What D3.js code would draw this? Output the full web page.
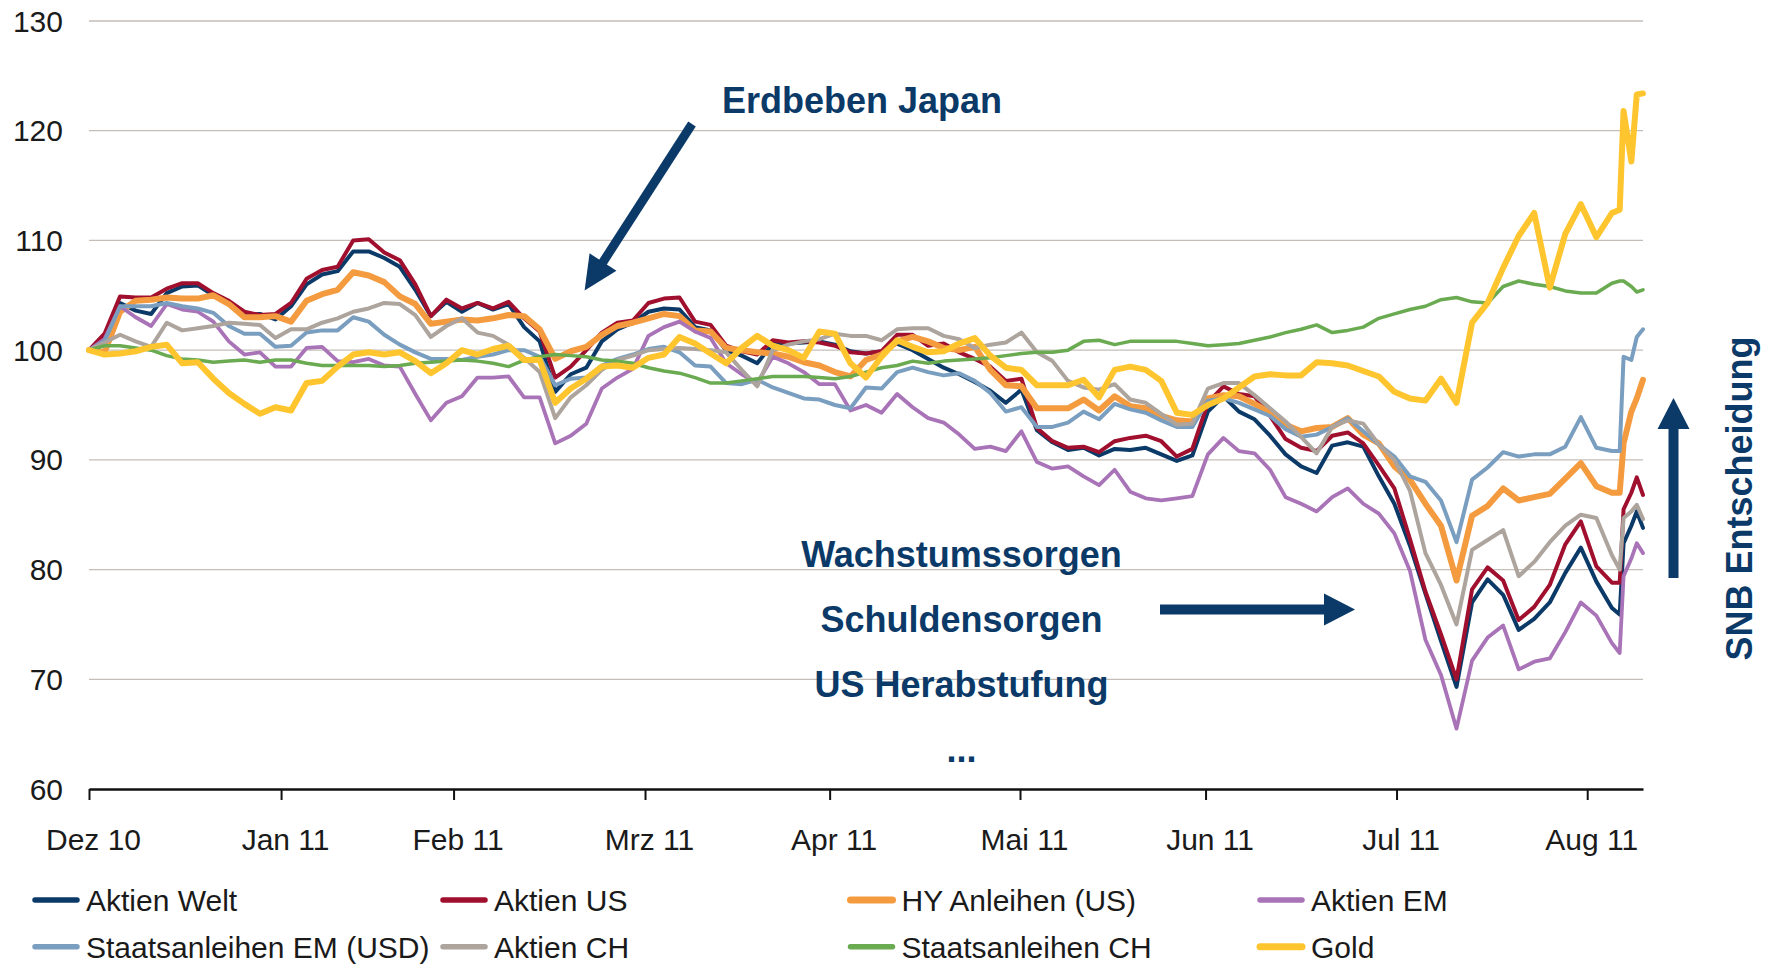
<!DOCTYPE html>
<html lang="de">
<head>
    <meta charset="UTF-8">
    <title>Anlageklassen Dez 10 - Aug 11</title>
    <script src="https://cdn.jsdelivr.net/npm/d3@7"></script>
    <style>
        body { margin: 0; background: #fff; }
        svg { display: block; }
        .tick_text, .legend_text {
            font-family: "Liberation Sans", Arial, sans-serif;
            font-size: 30px;
            fill: #1a1a1a;
        }
        .note {
            font-family: "Liberation Sans", Arial, sans-serif;
            font-size: 36px;
            font-weight: bold;
            fill: #0b3a68;
        }
    </style>
</head>
<body>
<svg width="1773" height="964"></svg>

<script>
    // sample positions (trading-day index, 0 = start of Dec 10)
    const day = d3.range(0, 99).concat([98.5, 98.75, 99.25, 99.6, 100]);

    const aktienWelt = [
        100, 101, 104.3, 103.6, 103.3, 105.2, 105.8, 105.9, 105, 104.3,
        103.2, 103.3, 102.8, 104, 106, 106.9, 107.2, 109, 109, 108.4,
        107.6, 105.5, 103.1, 104.4, 103.5, 104.3, 103.7, 104.2, 102.1, 100.8,
        96.2, 97.8, 98.4, 100.8, 101.9, 102.5, 103.5, 103.8, 103.7, 102.1,
        101.8, 100, 99.5, 98.8, 100.6, 100.6, 100.7, 100.8, 100.5, 99.9,
        99.7, 99.9, 100.6, 100, 99.2, 98.4, 97.8, 97.1, 96.3, 95.2,
        96.4, 92.7, 91.6, 90.9, 91.1, 90.4, 91, 90.9, 91.1, 90.5,
        89.9, 90.4, 94.4, 95.8, 94.4, 93.7, 92.2, 90.5, 89.4, 88.8,
        91.3, 91.6, 91.2, 88.5, 86, 82.2, 77.8, 73.5, 69.3, 77,
        79.1, 77.7, 74.5, 75.5, 77, 79.7, 82, 78.9, 76.5,
        75.9, 82.4, 84, 85.3, 83.8];

    const aktienUS = [
        100, 101.5, 104.9, 104.8, 104.8, 105.6, 106.1, 106.1, 105.2, 104.5,
        103.5, 103.2, 103.3, 104.3, 106.5, 107.3, 107.6, 110, 110.1, 108.9,
        108.2, 106, 103.1, 104.6, 103.8, 104.3, 103.8, 104.4, 102.9, 101.7,
        97.5, 98.5, 100, 101.6, 102.5, 102.7, 104.3, 104.7, 104.8, 102.6,
        102.3, 100.4, 99.9, 99.6, 100.9, 100.7, 100.8, 100.7, 100.4, 99.8,
        99.7, 99.9, 101.4, 101.4, 100.4, 100.6, 99.8, 99.2, 98.5, 97.2,
        97.4, 92.9, 91.7, 91.1, 91.2, 90.7, 91.7, 92, 92.2, 91.7,
        90.3, 91, 95.2, 96.7, 96, 95.8, 94, 91.9, 91.1, 90.8,
        92.2, 92.5, 91.5, 89.5, 87.4, 82.8, 78, 74.1, 70, 78.2,
        80.2, 79, 75.4, 76.6, 78.6, 82.3, 84.4, 80.3, 78.8,
        78.8, 85.5, 87, 88.4, 86.8];

    const hyAnleihen = [
        100, 99.8, 103.5, 104.5, 104.6, 104.8, 104.7, 104.7, 105, 104.2,
        103, 103, 103.1, 102.6, 104.5, 105.1, 105.5, 107.1, 106.8, 106.2,
        104.9, 104.2, 102.4, 102.6, 102.8, 102.7, 102.9, 103.2, 103.1, 101.9,
        99.2, 99.9, 100.3, 101.4, 102.2, 102.5, 102.9, 103.3, 103.1, 101.8,
        101.7, 100.2, 100, 99.8, 99.7, 99.4, 98.9, 98.6, 98, 97.6,
        99.1, 99.6, 100.8, 101.2, 100.8, 100.2, 100, 100.3, 98.2, 96.8,
        96.7, 94.7, 94.7, 94.7, 95.5, 94.5, 95.8, 94.9, 94.7, 94,
        93.6, 93.5, 95.6, 95.9, 95.8, 95.1, 94.3, 93.2, 92.6, 92.9,
        93, 93.8, 92.3, 91.5, 89.4, 88.2, 86, 84, 79, 84.9,
        85.8, 87.4, 86.3, 86.6, 86.9, 88.3, 89.7, 87.6, 87,
        87, 91.5, 94.4, 95.6, 97.3];

    const aktienEM = [
        100, 101, 104, 103, 102.2, 104.2, 103.7, 103.5, 102.6, 100.8,
        99.6, 99.8, 98.5, 98.5, 100.2, 100.3, 99, 98.9, 99.2, 98.6,
        98.5, 96, 93.6, 95.2, 95.8, 97.5, 97.5, 97.6, 95.7, 95.7,
        91.5, 92.2, 93.3, 96.5, 97.5, 98.3, 101.3, 102.1, 102.6, 101.7,
        101.1, 98.8, 97.8, 97, 99.4, 98.8, 98, 96.9, 96.9, 94.5,
        95, 94.3, 96, 94.8, 93.8, 93.4, 92.3, 91, 91.2, 90.8,
        92.6, 89.8, 89.2, 89.4, 88.5, 87.7, 89.1, 87.1, 86.5, 86.3,
        86.5, 86.7, 90.5, 92, 90.8, 90.6, 89.1, 86.6, 86, 85.3,
        86.6, 87.4, 86, 85.1, 83.3, 79.9, 73.6, 70.4, 65.5, 71.7,
        73.8, 74.9, 70.9, 71.6, 71.9, 74.3, 77, 75.8, 73.3,
        72.4, 79.4, 81, 82.4, 81.5];

    const staatsanleihenEM = [
        100, 100.8, 104, 104, 104, 104.3, 104, 103.8, 103.4, 102.2,
        101.5, 101.5, 100.3, 100.4, 101.6, 101.8, 101.8, 103, 102.6, 101.4,
        100.5, 99.8, 99.2, 99.2, 99.1, 99.4, 99.6, 100, 100, 99.4,
        96.8, 97.4, 97.5, 98.6, 99.2, 99.6, 100.1, 100.3, 99.8, 98.6,
        98.5, 97, 96.9, 97.3, 96.6, 96.1, 95.6, 95.5, 95, 94.7,
        96.6, 96.5, 98, 98.4, 98, 97.7, 97.9, 97.2, 96.1, 94.4,
        94.8, 93, 93, 93.4, 94.4, 93.7, 95.1, 94.6, 94.3, 93.6,
        93, 93, 95.4, 95.6, 95.2, 94.6, 94, 92.8, 92.1, 92.3,
        93, 93.8, 92.6, 91.4, 90.3, 88.5, 88, 86.3, 82.5, 88.2,
        89.3, 90.7, 90.3, 90.5, 90.5, 91.2, 93.9, 91.1, 90.8,
        90.8, 99.4, 99.1, 101.2, 101.9];

    const aktienCH = [
        100, 100.7, 101.4, 100.8, 100.3, 102.5, 101.8, 102, 102.2, 102.5,
        102.4, 102.3, 101.1, 101.9, 101.9, 102.5, 102.9, 103.5, 103.8, 104.3,
        104.2, 103.2, 101.2, 102.2, 102.9, 101.6, 101.3, 100.5, 99.3, 98,
        93.8, 95.7, 96.8, 98.2, 99.1, 99.5, 100, 100.1, 100.2, 100.1,
        100, 99.8, 98.2, 96.7, 100, 100.5, 100.8, 101, 101.5, 101.3,
        101.3, 100.9, 101.9, 102, 102, 101.3, 101, 100.2, 100.5, 100.7,
        101.6, 99.8, 99, 97.2, 96.6, 96.4, 96.9, 95.5, 95.2, 94.2,
        93.2, 93.3, 96.5, 97, 97, 95.9, 94.7, 93.5, 92.1, 90.6,
        93, 93.6, 93.3, 91.4, 90, 87.2, 81.5, 78.6, 75, 81.8,
        82.7, 83.6, 79.4, 80.7, 82.5, 84, 85, 84.7, 81.3,
        80, 84.7, 85.3, 85.9, 84.6];

    const staatsanleihenCH = [
        100, 100.4, 100.4, 100.2, 100, 99.5, 99.2, 99.1, 98.9, 99,
        99.1, 98.9, 99.1, 99.1, 98.8, 98.6, 98.6, 98.6, 98.6, 98.5,
        98.6, 98.8, 98.9, 99, 99.1, 99, 98.8, 98.5, 99.1, 99.4,
        99.6, 99.5, 99.4, 99.1, 99, 98.8, 98.4, 98.1, 97.9, 97.5,
        97, 97, 97.2, 97.4, 97.6, 97.6, 97.6, 97.5, 97.4, 97.6,
        98, 98.4, 98.6, 99, 98.8, 99, 99.1, 99.2, 99.3, 99.5,
        99.7, 99.8, 99.8, 100, 100.8, 100.9, 100.5, 100.8, 100.8, 100.8,
        100.8, 100.6, 100.4, 100.5, 100.6, 100.9, 101.2, 101.6, 101.9, 102.3,
        101.6, 101.8, 102.1, 102.9, 103.3, 103.7, 104, 104.6, 104.8, 104.4,
        104.3, 105.8, 106.3, 106, 105.8, 105.4, 105.2, 105.2, 106.1,
        106.3, 106.3, 105.8, 105.3, 105.5];

    const gold = [
        100, 99.6, 99.7, 99.9, 100.3, 100.5, 98.8, 98.9, 97.4, 96.1,
        95.1, 94.2, 94.8, 94.5, 97, 97.2, 98.5, 99.6, 99.8, 99.6,
        99.8, 99, 97.9, 98.8, 100, 99.6, 100.1, 100.4, 99.1, 99.1,
        95.2, 96.5, 97.4, 98.5, 98.6, 98.4, 99.3, 99.6, 101.2, 100.6,
        99.7, 98.8, 100.2, 101.3, 100.4, 100, 99.3, 101.7, 101.5, 98.8,
        97.5, 99.4, 100.9, 100.3, 99.8, 99.9, 100.6, 101.1, 99.5, 98.4,
        98.2, 96.8, 96.8, 96.8, 97.3, 95.7, 98.2, 98.5, 98.2, 97.2,
        94.3, 94.1, 95, 95.6, 96.6, 97.6, 97.8, 97.7, 97.7, 98.9,
        98.8, 98.6, 98.1, 97.6, 96.2, 95.6, 95.4, 97.4, 95.2, 102.5,
        104.3, 107.5, 110.4, 112.5, 105.7, 110.6, 113.3, 110.3, 112.5,
        112.8, 121.8, 117.2, 123.3, 123.4];

    const seriesNames = ["Aktien Welt", "Aktien US", "HY Anleihen (US)", "Aktien EM",
        "Staatsanleihen EM (USD)", "Aktien CH", "Staatsanleihen CH", "Gold"];
    const seriesValues = [aktienWelt, aktienUS, hyAnleihen, aktienEM,
        staatsanleihenEM, aktienCH, staatsanleihenCH, gold];

    const monthLabels = ["Dez 10", "Jan 11", "Feb 11", "Mrz 11", "Apr 11", "Mai 11", "Jun 11", "Jul 11", "Aug 11"];
    const monthTickDay = [0, 12.36, 23.46, 35.78, 47.66, 59.91, 71.85, 84.14, 96.41];
    const yTicks = [60, 70, 80, 90, 100, 110, 120, 130];

    const colors = ["#0b3a68", "#a0102e", "#f49b3f", "#a973b7", "#7a9ebf", "#aca49d", "#6aaa50", "#fec52e"];
    const widths = [4, 4, 6, 3.8, 4, 4, 3.5, 6];

    let svg = d3.select("svg");

    const x = d3.scaleLinear().domain([0, 100]).range([89, 1643]);
    const y = d3.scaleLinear().domain([60, 130]).range([789, 21]);

    // grid
    svg.append("g").attr("class", "grid")
        .selectAll("line")
        .data(yTicks.filter(function (d) { return d > 60; }))
        .enter().append("line")
        .attr("x1", x(0)).attr("x2", x(100))
        .attr("y1", function (d) { return y(d); })
        .attr("y2", function (d) { return y(d); })
        .attr("stroke", "#c4beb7")
        .attr("stroke-width", 1.3);

    // y labels
    svg.append("g")
        .selectAll("text")
        .data(yTicks)
        .enter().append("text")
        .attr("class", "tick_text")
        .attr("x", 63)
        .attr("y", function (d) { return y(d); })
        .attr("dy", "0.35em")
        .attr("text-anchor", "end")
        .text(function (d) { return d; });

    // x axis
    const xAxis = d3.axisBottom(x)
        .tickValues(monthTickDay)
        .tickSize(11)
        .tickSizeOuter(0)
        .tickPadding(29)
        .tickFormat(function (d, i) { return monthLabels[i]; });

    const ax = svg.append("g")
        .attr("transform", `translate(0,${y(60)})`)
        .call(xAxis);
    ax.select(".domain").attr("stroke", "#111").attr("stroke-width", 2.4);
    ax.selectAll(".tick line").attr("stroke", "#111").attr("stroke-width", 2);
    ax.selectAll(".tick text")
        .attr("class", "tick_text")
        .attr("font-family", null).attr("font-size", null)
        .attr("fill", null)
        .attr("dx", 4);

    // lines
    const line = d3.line()
        .x(function (d) { return x(d[0]); })
        .y(function (d) { return y(d[1]); });

    svg.append("g").attr("class", "lines")
        .attr("fill", "none")
        .attr("stroke-linejoin", "round")
        .attr("stroke-linecap", "round")
        .selectAll("path")
        .data(seriesValues)
        .enter().append("path")
        .attr("stroke", function (d, i) { return colors[i]; })
        .attr("stroke-width", function (d, i) { return widths[i]; })
        .attr("d", function (vals) { return line(d3.zip(day, vals)); });

    // arrows
    function arrow(g, x1, y1, x2, y2, shaft, headLen, headHalf) {
        const dx = x2 - x1, dy = y2 - y1;
        const len = Math.sqrt(dx * dx + dy * dy);
        const ux = dx / len, uy = dy / len;
        const px = -uy, py = ux;
        const bx = x2 - ux * headLen, by = y2 - uy * headLen;
        g.append("line")
            .attr("x1", x1).attr("y1", y1)
            .attr("x2", bx + ux * 2).attr("y2", by + uy * 2)
            .attr("stroke", "#0b3a68").attr("stroke-width", shaft);
        g.append("path")
            .attr("d", `M${x2},${y2}L${bx + px * headHalf},${by + py * headHalf}L${bx - px * headHalf},${by - py * headHalf}Z`)
            .attr("fill", "#0b3a68");
    }
    const notes = svg.append("g").attr("class", "notes");
    arrow(notes, 692, 124, 584.6, 290.6, 9, 34, 16);
    arrow(notes, 1160, 609.5, 1355, 609.5, 10, 31, 16);
    arrow(notes, 1673.5, 578, 1673.5, 398, 10, 31, 16);

    notes.append("text").attr("class", "note")
        .attr("x", 862).attr("y", 113).attr("text-anchor", "middle")
        .text("Erdbeben Japan");

    const crisis = ["Wachstumssorgen", "Schuldensorgen", "US Herabstufung", "..."];
    notes.selectAll(".crisis")
        .data(crisis)
        .enter().append("text")
        .attr("class", "note")
        .attr("x", 961.5)
        .attr("y", function (d, i) { return 567 + i * 65; })
        .attr("text-anchor", "middle")
        .text(function (d) { return d; });

    notes.append("text").attr("class", "note")
        .attr("transform", "translate(1752,498.6) rotate(-90)")
        .attr("text-anchor", "middle")
        .text("SNB Entscheidung");

    // legend
    const colX = [33, 441, 848.5, 1258];
    const rowY = [900, 946.7];
    let legend = svg.append("g").attr("class", "legends")
        .selectAll("g")
        .data(seriesNames)
        .enter().append("g")
        .attr("transform", function (d, i) { return `translate(${colX[i % 4]},${rowY[Math.floor(i / 4)]})`; });
    legend.append("line")
        .attr("x1", 2).attr("x2", 44)
        .attr("stroke", function (d, i) { return colors[i]; })
        .attr("stroke-width", function (d, i) { return widths[i] > 5 ? 7 : 5.5; })
        .attr("stroke-linecap", "round");
    legend.append("text")
        .attr("class", "legend_text")
        .attr("x", 53).attr("y", 11)
        .text(function (d) { return d; });
</script>
</body>
</html>
